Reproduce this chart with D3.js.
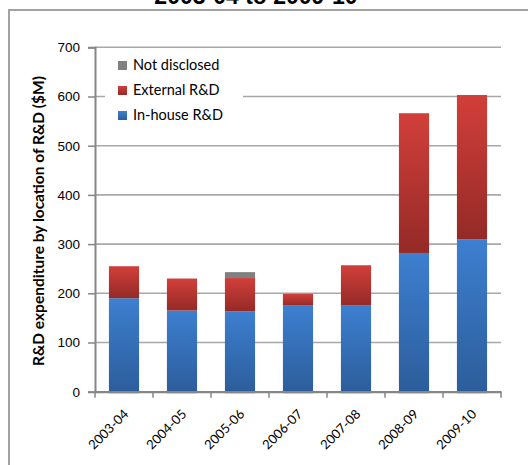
<!DOCTYPE html>
<html>
<head>
<meta charset="utf-8">
<script src="https://cdn.jsdelivr.net/npm/d3@7"></script>
<style>
  html, body { margin: 0; padding: 0; background: #fff; }
  svg { display: block; }
</style>
</head>
<body>
<svg id="chart" width="528" height="465"></svg>
<script>
// R&D expenditure ($M) by location, per financial year
const years = ["2003-04", "2004-05", "2005-06", "2006-07", "2007-08", "2008-09", "2009-10"];
const inHouse = [190, 165, 163, 175, 175, 282, 310];
const external = [65, 65, 68, 24, 82, 284, 293];
const notDisclosed = [0, 0, 12, 0, 0, 0, 0];
const yTicks = [0, 100, 200, 300, 400, 500, 600, 700];

const seriesNames = ["In-house R&D", "External R&D", "Not disclosed"];
const seriesKeys = ["inHouse", "external", "notDisclosed"];

const rows = years.map((y, i) => ({
  year: y,
  inHouse: inHouse[i],
  external: external[i],
  notDisclosed: notDisclosed[i]
}));

const svg = d3.select("#chart");
const plot = { left: 95, right: 501, top: 47.3, bottom: 391.7 };

const x = d3.scaleBand().domain(years).range([plot.left, plot.right]).paddingInner(0.48).paddingOuter(0.24);
const xBand = d3.scaleBand().domain(years).range([plot.left, plot.right]);
const y = d3.scaleLinear().domain([0, 700]).range([plot.bottom, plot.top]);

// gradients
const defs = svg.append("defs");
const grads = {
  inHouse: ["#3d7fd0", "#2c5d9a"],
  external: ["#d23f3a", "#942a27"],
  notDisclosed: ["#808080", "#808080"]
};
Object.entries(grads).forEach(([k, [c0, c1]]) => {
  const g = defs.append("linearGradient").attr("id", "g-" + k)
    .attr("x1", 0).attr("y1", 0).attr("x2", 0).attr("y2", 1);
  g.append("stop").attr("offset", "0%").attr("stop-color", c0);
  g.append("stop").attr("offset", "100%").attr("stop-color", c1);
});

// outer frame
svg.append("path")
  .attr("d", "M9,465 L9,10 L528,10")
  .attr("fill", "none").attr("stroke", "#a3a3a3").attr("stroke-width", 2);

// title (runs past the top edge of the frame)
svg.append("text")
  .attr("x", 256).attr("y", 4)
  .attr("text-anchor", "middle")
  .attr("font-family", "Liberation Sans, Arial, sans-serif")
  .attr("font-weight", "bold").attr("font-size", 23)
  .attr("fill", "#000")
  .text("2003-04 to 2009-10");

// gridlines
svg.append("g").selectAll("line").data(yTicks.filter(d => d > 0)).join("line")
  .attr("x1", plot.left).attr("x2", plot.right)
  .attr("y1", d => y(d)).attr("y2", d => y(d))
  .attr("stroke", "#a8a8a8").attr("stroke-width", 1.6);

// stacked bars
const stack = d3.stack().keys(seriesKeys)(rows);
svg.append("g").selectAll("g").data(stack).join("g")
  .attr("fill", d => "url(#g-" + d.key + ")")
  .selectAll("rect").data(d => d.filter(p => p[1] - p[0] > 0)).join("rect")
  .attr("x", d => x(d.data.year))
  .attr("width", x.bandwidth())
  .attr("y", d => y(d[1]))
  .attr("height", d => y(d[0]) - y(d[1]) + (d[0] === 0 ? 1.5 : 0));

// y axis
const yAxis = svg.append("g").attr("transform", `translate(${plot.left},0)`)
  .call(d3.axisLeft(y).tickValues(yTicks).tickSize(7).tickPadding(8));
yAxis.select(".domain").attr("stroke", "#868686").attr("stroke-width", 2);
yAxis.selectAll(".tick line").attr("stroke", "#868686").attr("stroke-width", 1.5);
yAxis.selectAll(".tick text")
  .attr("font-family", "Liberation Sans, Arial, sans-serif")
  .attr("font-size", 13.5).attr("fill", "#000");

// x axis
const xAxis = svg.append("g").attr("transform", `translate(0,${plot.bottom})`)
  .call(d3.axisBottom(xBand).tickSize(0).tickPadding(0));
xAxis.select(".domain").attr("stroke", "#868686").attr("stroke-width", 2.2);
xAxis.selectAll(".tick text")
  .attr("font-family", "Lato, sans-serif")
  .attr("font-size", 13).attr("fill", "#000")
  .attr("text-anchor", "end")
  .attr("transform", "translate(2,20) rotate(-45)")
  .attr("dy", "0.35em");
// category separators
svg.append("g").selectAll("line").data(years.concat(["_end"])).join("line")
  .attr("x1", d => d === "_end" ? plot.right : xBand(d))
  .attr("x2", d => d === "_end" ? plot.right : xBand(d))
  .attr("y1", plot.bottom).attr("y2", plot.bottom + 6)
  .attr("stroke", "#868686").attr("stroke-width", 1.5);

// y axis title
svg.append("text")
  .attr("transform", "translate(44,221) rotate(-90)")
  .attr("text-anchor", "middle")
  .attr("font-family", "Lato, sans-serif")
  .attr("font-weight", "bold").attr("font-size", 15.5)
  .attr("fill", "#000")
  .text("R&D expenditure by location of R&D ($M)");

// legend
const legendOrder = [2, 1, 0];
const legend = svg.append("g");
legend.append("rect").attr("x", 105).attr("y", 54).attr("width", 138).attr("height", 74).attr("fill", "#fff");
legendOrder.forEach((si, row) => {
  const ly = 65 + row * 25;
  legend.append("rect")
    .attr("x", 118).attr("y", ly - 4).attr("width", 9).attr("height", 9)
    .attr("fill", "url(#g-" + seriesKeys[si] + ")");
  legend.append("text")
    .attr("x", 133).attr("y", ly + 5)
    .attr("font-family", "Lato, sans-serif")
    .attr("font-size", 14.5).attr("fill", "#000")
    .text(seriesNames[si]);
});
</script>
</body>
</html>
